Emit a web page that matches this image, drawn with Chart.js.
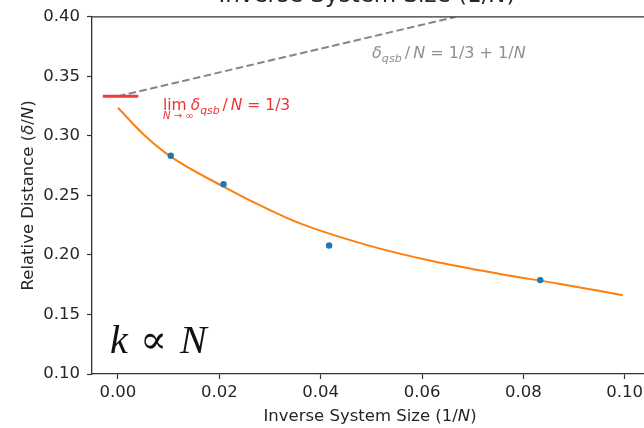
<!DOCTYPE html>
<html>
<head>
<meta charset="utf-8">
<script src="https://cdn.jsdelivr.net/npm/chart.js@4/dist/chart.umd.min.js"></script>
<style>
  html, body { margin: 0; padding: 0; background: #fff; overflow: hidden; }
  #wrap { width: 644px; height: 428px; overflow: hidden; }
  canvas { display: block; }
</style>
</head>
<body>
<div id="wrap"><canvas id="c" width="700" height="428" style="width:700px;height:428px"></canvas></div>
<script>
// Measured relative distance for four system sizes (x = 1/N)
const sizeX = [1 / 96, 1 / 48, 1 / 24, 1 / 12];
const distY = [0.2833, 0.2595, 0.2080, 0.1789];

// Fitted curve, sampled
const fitX = [0, 0.005, 0.0102, 0.0208, 0.0300, 0.0359, 0.0490, 0.0622, 0.0753, 0.0870, 0.0996];
const fitY = [0.3237, 0.3015, 0.2833, 0.2575, 0.2376, 0.2265, 0.2085, 0.1947, 0.1841, 0.1758, 0.1662];

// Upper bound delta_qsb/N = 1/3 + 1/N (drawn until it leaves the axes)
const boundX = [0, 1 / 15];
const boundY = [1 / 3, 1 / 3 + 1 / 15];

// Limit value 1/3 marker
const limitX = [-0.003, 0.004];
const limitY = [1 / 3, 1 / 3];

// Axis ticks
const xTicks = [0, 0.02, 0.04, 0.06, 0.08, 0.10];
const xTickLabels = ['0.00', '0.02', '0.04', '0.06', '0.08', '0.10'];
const yTicks = [0.10, 0.15, 0.20, 0.25, 0.30, 0.35, 0.40];
const yTickLabels = ['0.10', '0.15', '0.20', '0.25', '0.30', '0.35', '0.40'];

const zip = (xs, ys) => xs.map((x, i) => ({ x, y: ys[i] }));

const SANS = '"DejaVu Sans", sans-serif';
const SERIF = '"Liberation Serif", "DejaVu Serif", serif';

// Draw a sequence of text runs (font / offset / colour) left to right
function drawRuns(ctx, x, y, runs, color) {
  ctx.save();
  ctx.textBaseline = 'alphabetic';
  ctx.textAlign = 'left';
  let cx = x;
  for (const r of runs) {
    if (r.gap) { cx += r.gap; continue; }
    ctx.font = r.font;
    ctx.fillStyle = r.color || color;
    ctx.fillText(r.t, cx, y + (r.dy || 0));
    if (!r.noAdvance) cx += ctx.measureText(r.t).width;
  }
  ctx.restore();
  return cx;
}
function runsWidth(ctx, runs) {
  ctx.save();
  let w = 0;
  for (const r of runs) {
    if (r.gap) { w += r.gap; continue; }
    ctx.font = r.font;
    if (!r.noAdvance) w += ctx.measureText(r.t).width;
  }
  ctx.restore();
  return w;
}

const decor = {
  id: 'decor',
  afterDraw(chart) {
    const ctx = chart.ctx;
    const a = chart.chartArea;
    // top and right spines
    ctx.save();
    ctx.strokeStyle = '#333';
    ctx.lineWidth = 1.3;
    ctx.beginPath();
    ctx.moveTo(a.left, a.top);
    ctx.lineTo(a.right, a.top);
    ctx.lineTo(a.right, a.bottom);
    ctx.stroke();
    ctx.restore();

    const fs = 16.5;
    const up = fs + 'px ' + SANS;
    const it = 'italic ' + fs + 'px ' + SANS;

    // x axis title
    const xRuns = [
      { t: 'Inverse System Size (1/', font: up },
      { t: 'N', font: it },
      { t: ')', font: up }
    ];
    const cxMid = (a.left + a.right) / 2;
    drawRuns(ctx, cxMid - runsWidth(ctx, xRuns) / 2, 421, xRuns, '#262626');

    // title along the top edge
    const tf = 23;
    const tRuns = [
      { t: 'Inverse System Size (1/', font: tf + 'px ' + SANS },
      { t: 'N', font: 'italic ' + tf + 'px ' + SANS },
      { t: ')', font: tf + 'px ' + SANS }
    ];
    drawRuns(ctx, 367 - runsWidth(ctx, tRuns) / 2, 2, tRuns, '#262626');

    // y axis title (rotated)
    const yRuns = [
      { t: 'Relative Distance (', font: up },
      { t: 'δ', font: it },
      { t: '/', font: up },
      { t: 'N', font: it },
      { t: ')', font: up }
    ];
    ctx.save();
    ctx.translate(33, (a.top + a.bottom) / 2);
    ctx.rotate(-Math.PI / 2);
    drawRuns(ctx, -runsWidth(ctx, yRuns) / 2, 0, yRuns, '#262626');
    ctx.restore();

    // bound annotation (grey)
    const gf = 16;
    const gUp = gf + 'px ' + SANS, gIt = 'italic ' + gf + 'px ' + SANS;
    const gSub = 'italic ' + (gf * 0.7) + 'px ' + SANS;
    drawRuns(ctx, 372, 58, [
      { t: 'δ', font: gIt },
      { t: 'qsb', font: gSub, dy: 3.5 },
      { gap: 3 }, { t: '/', font: gUp }, { gap: 3 },
      { t: 'N', font: gIt },
      { t: ' = 1/3 + 1/', font: gUp },
      { t: 'N', font: gIt }
    ], '#8f8f8f');

    // limit annotation (red)
    const rf = 15.5;
    const rUp = rf + 'px ' + SANS, rIt = 'italic ' + rf + 'px ' + SANS;
    const rSub = 'italic ' + (rf * 0.7) + 'px ' + SANS;
    const red = '#ec3434';
    const limEnd = drawRuns(ctx, 163, 110, [{ t: 'lim', font: rUp }], red);
    drawRuns(ctx, 163, 119, [
      { t: 'N', font: 'italic 10px ' + SANS },
      { t: ' → ∞', font: '10px ' + SANS }
    ], red);
    drawRuns(ctx, limEnd + 4, 110, [
      { t: 'δ', font: rIt },
      { t: 'qsb', font: rSub, dy: 3.5 },
      { gap: 3 }, { t: '/', font: rUp }, { gap: 3 },
      { t: 'N', font: rIt },
      { t: ' = 1/3', font: rUp }
    ], red);

    // scaling label
    const sf = 40;
    ctx.save();
    ctx.fillStyle = '#111';
    ctx.textBaseline = 'alphabetic';
    ctx.font = 'italic ' + sf + 'px ' + SERIF;
    ctx.fillText('k', 110, 353);
    ctx.font = sf + 'px ' + SERIF;
    ctx.fillText('∝', 140, 353);
    ctx.font = 'italic ' + sf + 'px ' + SERIF;
    ctx.fillText('N', 180, 353);
    ctx.restore();
  }
};

const tickFont = { family: '"DejaVu Sans", sans-serif', size: 16.5 };

new Chart(document.getElementById('c'), {
  type: 'scatter',
  data: {
    datasets: [
      {
        label: 'fit', data: zip(fitX, fitY), showLine: true,
        borderColor: '#ff7f0e', borderWidth: 2, pointRadius: 0,
        cubicInterpolationMode: 'monotone', order: 2
      },
      {
        label: 'data', data: zip(sizeX, distY),
        backgroundColor: '#1f77b4', borderColor: '#1f77b4', borderWidth: 0,
        pointRadius: 3.2, order: 0
      },
      {
        label: 'bound', data: zip(boundX, boundY), showLine: true,
        borderColor: '#858585', borderWidth: 2, borderDash: [7.5, 3.5],
        pointRadius: 0, order: 3
      },
      {
        label: 'limit', data: zip(limitX, limitY), showLine: true,
        borderColor: '#f03c3c', borderWidth: 3, pointRadius: 0, order: 1
      }
    ]
  },
  options: {
    responsive: false,
    animation: false,
    events: [],
    layout: { padding: { left: 0, right: 52, top: 13, bottom: 0 } },
    plugins: { legend: { display: false }, tooltip: { enabled: false } },
    scales: {
      x: {
        type: 'linear', min: -0.00513, max: 0.1046,
        afterBuildTicks: s => { s.ticks = xTicks.map(v => ({ value: v })); },
        afterFit: s => { s.height = 54; },
        ticks: {
          callback: (v, i) => xTickLabels[i], font: tickFont, color: '#262626',
          padding: 4, maxRotation: 0, autoSkip: false
        },
        grid: { drawOnChartArea: false, drawTicks: true, tickLength: 5, tickColor: '#333', tickWidth: 1.2 },
        border: { display: true, color: '#333', width: 1.3 }
      },
      y: {
        type: 'linear', min: 0.10, max: 0.40,
        afterBuildTicks: s => { s.ticks = yTicks.map(v => ({ value: v })); },
        afterFit: s => { s.width = 92; },
        ticks: {
          callback: (v, i) => yTickLabels[i], font: tickFont, color: '#262626',
          padding: 7, autoSkip: false
        },
        grid: { drawOnChartArea: false, drawTicks: true, tickLength: 5, tickColor: '#333', tickWidth: 1.2 },
        border: { display: true, color: '#333', width: 1.3 }
      }
    }
  },
  plugins: [decor]
});
</script>
</body>
</html>
